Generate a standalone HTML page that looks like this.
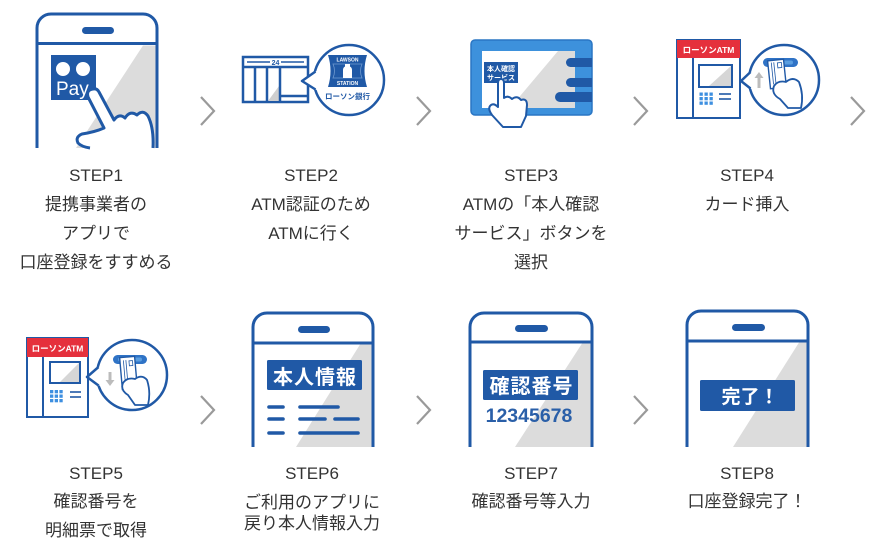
<!DOCTYPE html>
<html><head><meta charset="utf-8">
<style>
html,body{margin:0;padding:0;background:#fff;}
svg{display:block;}
text{font-family:"Liberation Sans","Noto Sans CJK JP",sans-serif;}
.t{font-size:17px;fill:#333;text-anchor:middle;}
.w{fill:#fff;font-weight:bold;text-anchor:middle;}
</style></head><body>
<svg width="880" height="544" viewBox="0 0 880 544" xmlns="http://www.w3.org/2000/svg">
<!-- ========== STEP1 ========== -->
<polygon points="143,45.5 155.5,45.5 155.5,148 76,148" fill="#dcdcdc"/>
<path d="M37,148 V28 A14 14 0 0 1 51,14 H143 A14 14 0 0 1 157,28 V148" fill="none" stroke="#2059a6" stroke-width="3"/>
<line x1="37" y1="43.5" x2="157" y2="43.5" stroke="#2059a6" stroke-width="3"/>
<rect x="82" y="27" width="32" height="7" rx="3.5" fill="#2059a6"/>
<rect x="51" y="55" width="45" height="45" fill="#2059a6"/>
<circle cx="63" cy="69" r="7" fill="#fff"/>
<circle cx="83" cy="69" r="7" fill="#fff"/>
<text x="56" y="95" font-size="19" fill="#fff">Pay</text>
<path d="M90,148 Q82,147 78,143 Q75,137 82,134 Q95,132 104,128 L88,97 Q86,90 93,89 Q97,88 99,92 L114,120 Q119,113 125,118 Q130,110 137,115 Q143,109 148,116 Q154,128 153,148" fill="#fff" stroke="#2059a6" stroke-width="3" stroke-linejoin="round"/>

<!-- ========== STEP2 ========== -->
<rect x="243" y="57" width="65" height="45" fill="#fff" stroke="#2059a6" stroke-width="2.5"/>
<polygon points="279,86 279,101 268,101" fill="#cfcfcf"/>
<g stroke="#2059a6" stroke-width="2.5" fill="none">
<line x1="243" y1="67" x2="308" y2="67"/>
<line x1="255" y1="67" x2="255" y2="102"/>
<line x1="267" y1="67" x2="267" y2="102"/>
<line x1="280" y1="67" x2="280" y2="102"/>
<line x1="280" y1="96" x2="308" y2="96"/>
<line x1="247" y1="62" x2="304" y2="62" stroke-width="1.5"/>
</g>
<rect x="270" y="58.5" width="11" height="7" fill="#fff"/>
<text x="275.5" y="65" font-size="7" font-weight="bold" fill="#2059a6" text-anchor="middle">24</text>
<circle cx="349" cy="80" r="35" fill="#fff" stroke="#2059a6" stroke-width="2.5"/>
<polygon points="316.5,71 302,81 316.5,90" fill="#fff"/>
<polyline points="315.5,71.5 302,81 315.5,89.5" fill="none" stroke="#2059a6" stroke-width="2.5" stroke-linejoin="round"/>
<path d="M328,55 H367 Q362,71 367,87 H328 Q333,71 328,55 Z" fill="#2059a6"/>
<path d="M333,64 H362 Q359,71 362,78 H333 Q336,71 333,64 Z" fill="none" stroke="#6f9ad0" stroke-width="0.8"/>
<text x="347.5" y="61.5" font-size="5" font-weight="bold" fill="#fff" text-anchor="middle">LAWSON</text>
<text x="347.5" y="85" font-size="5" font-weight="bold" fill="#fff" text-anchor="middle">STATION</text>
<path d="M343,78 V70 Q343,67.5 345,66.5 V64 H350 V66.5 Q352,67.5 352,70 V78 Z" fill="#fff"/>
<text x="347.5" y="99" font-size="7.5" font-weight="bold" fill="#2059a6" text-anchor="middle">ローソン銀行</text>

<!-- ========== STEP3 ========== -->
<rect x="471" y="40" width="121" height="75" rx="4" fill="#3d91dc" stroke="#2a76c4" stroke-width="1.5"/>
<rect x="482" y="51" width="93" height="57" fill="#fff"/>
<polygon points="558,51 575,51 575,108 510,108" fill="#dcdcdc"/>
<path d="M570.5,58 H592 V67 H570.5 A4.5 4.5 0 0 1 570.5,58 Z" fill="#2059a6"/>
<path d="M570.5,78 H592 V87 H570.5 A4.5 4.5 0 0 1 570.5,78 Z" fill="#2059a6"/>
<path d="M560,92 H592 V102 H560 A5 5 0 0 1 560,92 Z" fill="#2059a6"/>
<rect x="484" y="62" width="34" height="21" fill="#2059a6"/>
<text x="501" y="71" font-size="7" class="w">本人確認</text>
<text x="501" y="80" font-size="7" class="w">サービス</text>
<path d="M498,107 V83 Q498,79 501,79 Q504,79 504,83 V98 Q508,95 512,99 Q517,95 521,100 Q527,98 527,105 L526,116 L521,127 L503,127 L492,115 Q487,108 491,105 Q494,103 498,107 Z" fill="#fff" stroke="#2059a6" stroke-width="2" stroke-linejoin="round"/>

<!-- ========== STEP4 ========== -->
<rect x="677" y="40" width="63" height="78" fill="#fff" stroke="#2059a6" stroke-width="2"/>
<rect x="677" y="40" width="63" height="18" fill="#e5303c"/>
<text x="708.5" y="53" font-size="8.5" class="w">ローソンATM</text>
<line x1="693" y1="58" x2="693" y2="118" stroke="#2059a6" stroke-width="2"/>
<rect x="699" y="65" width="33" height="22" fill="#fff" stroke="#2059a6" stroke-width="2"/>
<polygon points="731,66 731,86 709,86" fill="#d6d6d6"/>
<g fill="#3d8fe0">
<rect x="699.5" y="92.5" width="3.3" height="3.3"/><rect x="704.5" y="92.5" width="3.3" height="3.3"/><rect x="709.5" y="92.5" width="3.3" height="3.3"/>
<rect x="699.5" y="97" width="3.3" height="3.3"/><rect x="704.5" y="97" width="3.3" height="3.3"/><rect x="709.5" y="97" width="3.3" height="3.3"/>
<rect x="699.5" y="101.5" width="3.3" height="3.3"/><rect x="704.5" y="101.5" width="3.3" height="3.3"/><rect x="709.5" y="101.5" width="3.3" height="3.3"/>
</g>
<line x1="719" y1="94" x2="731" y2="94" stroke="#2059a6" stroke-width="1.6"/>
<line x1="719" y1="99" x2="731" y2="99" stroke="#2059a6" stroke-width="1.6"/>
<circle cx="784" cy="80" r="35" fill="#fff" stroke="#2059a6" stroke-width="2.5"/>
<polygon points="751.5,71.5 741,81 751.5,89" fill="#fff"/>
<polyline points="750.5,72 741,81 750.5,88.5" fill="none" stroke="#2059a6" stroke-width="2.5" stroke-linejoin="round"/>
<rect x="763" y="58" width="35" height="9" rx="4.5" fill="#2f73c6"/>
<rect x="768" y="60.5" width="25" height="4" rx="2" fill="#5a9ee0"/>
<g transform="rotate(-6 777 74)">
<rect x="769" y="60" width="16" height="28" fill="#fff" stroke="#2059a6" stroke-width="1.4"/>
<line x1="772.5" y1="62" x2="772.5" y2="84" stroke="#2059a6" stroke-width="0.8"/>
<line x1="775" y1="62" x2="775" y2="84" stroke="#2059a6" stroke-width="0.8"/>
<rect x="778.5" y="63" width="4" height="5" fill="none" stroke="#2059a6" stroke-width="0.8"/>
</g>
<path d="M774,86 Q778,80 786,82 Q793,76 799,82 Q804,95 801,108 L788,108 L780,99 Q771,94 774,86 Z" fill="#fff" stroke="#2059a6" stroke-width="1.8" stroke-linejoin="round"/>
<line x1="759" y1="77" x2="759" y2="88" stroke="#bcbcbc" stroke-width="3"/>
<polygon points="754.5,78 763.5,78 759,72" fill="#bcbcbc"/>

<!-- ========== STEP5 ========== -->
<rect x="27" y="338" width="61" height="79" fill="#fff" stroke="#2059a6" stroke-width="2"/>
<rect x="27" y="338" width="61" height="19" fill="#e5303c"/>
<text x="57.5" y="351.5" font-size="8.5" class="w">ローソンATM</text>
<line x1="43" y1="357" x2="43" y2="417" stroke="#2059a6" stroke-width="2"/>
<rect x="50" y="362" width="30" height="21" fill="#fff" stroke="#2059a6" stroke-width="2"/>
<polygon points="79,363 79,382 60,382" fill="#d6d6d6"/>
<g fill="#3d8fe0">
<rect x="50" y="390" width="3.3" height="3.3"/><rect x="54.7" y="390" width="3.3" height="3.3"/><rect x="59.4" y="390" width="3.3" height="3.3"/>
<rect x="50" y="394.5" width="3.3" height="3.3"/><rect x="54.7" y="394.5" width="3.3" height="3.3"/><rect x="59.4" y="394.5" width="3.3" height="3.3"/>
<rect x="50" y="399" width="3.3" height="3.3"/><rect x="54.7" y="399" width="3.3" height="3.3"/><rect x="59.4" y="399" width="3.3" height="3.3"/>
</g>
<line x1="70" y1="392" x2="81" y2="392" stroke="#2059a6" stroke-width="1.6"/>
<line x1="70" y1="397" x2="81" y2="397" stroke="#2059a6" stroke-width="1.6"/>
<circle cx="132" cy="375" r="35" fill="#fff" stroke="#2059a6" stroke-width="2.5"/>
<polygon points="99.5,366.5 87,377 99.5,386" fill="#fff"/>
<polyline points="98.5,367 87,377 98.5,385.5" fill="none" stroke="#2059a6" stroke-width="2.5" stroke-linejoin="round"/>
<rect x="113" y="355" width="34" height="9" rx="4.5" fill="#2f73c6"/>
<rect x="118" y="357.5" width="24" height="4" rx="2" fill="#5a9ee0"/>
<g transform="rotate(-5 128 373)">
<rect x="121" y="357" width="15" height="32" fill="#fff" stroke="#2059a6" stroke-width="1.4"/>
<line x1="124.5" y1="360" x2="124.5" y2="384" stroke="#2059a6" stroke-width="0.8"/>
<line x1="127" y1="360" x2="127" y2="384" stroke="#2059a6" stroke-width="0.8"/>
<rect x="130" y="361" width="3.5" height="5" fill="none" stroke="#2059a6" stroke-width="0.8"/>
</g>
<path d="M123,383 Q127,377 135,379 Q142,374 147,380 Q151,392 148,405 L135,405 L128,395 Q120,390 123,383 Z" fill="#fff" stroke="#2059a6" stroke-width="1.8" stroke-linejoin="round"/>
<line x1="110" y1="372" x2="110" y2="381" stroke="#bcbcbc" stroke-width="3"/>
<polygon points="105.5,380 114.5,380 110,386" fill="#bcbcbc"/>

<!-- ========== STEP6 ========== -->
<polygon points="360,344.5 371.5,344.5 371.5,447 296,447" fill="#dcdcdc"/>
<path d="M253,447 V327 A14 14 0 0 1 267,313 H359 A14 14 0 0 1 373,327 V447" fill="none" stroke="#2059a6" stroke-width="3"/>
<line x1="253" y1="343" x2="373" y2="343" stroke="#2059a6" stroke-width="3"/>
<rect x="298" y="326" width="32" height="7" rx="3.5" fill="#2059a6"/>
<rect x="267" y="360" width="95" height="30" rx="1.5" fill="#2059a6"/>
<text x="315" y="384" font-size="20" letter-spacing="1" class="w">本人情報</text>
<g stroke="#2059a6" stroke-width="3.6" stroke-linecap="round">
<line x1="269" y1="407" x2="283" y2="407"/><line x1="300" y1="407" x2="338" y2="407"/>
<line x1="269" y1="419" x2="283" y2="419"/><line x1="300" y1="419" x2="325" y2="419"/><line x1="335" y1="419" x2="358" y2="419"/>
<line x1="269" y1="433" x2="283" y2="433"/><line x1="300" y1="433" x2="358" y2="433"/>
</g>

<!-- ========== STEP7 ========== -->
<polygon points="582,343.5 590.5,343.5 590.5,447 515,447" fill="#dcdcdc"/>
<path d="M470,447 V327 A14 14 0 0 1 484,313 H578 A14 14 0 0 1 592,327 V447" fill="none" stroke="#2059a6" stroke-width="3"/>
<line x1="470" y1="342" x2="592" y2="342" stroke="#2059a6" stroke-width="3"/>
<rect x="515" y="325" width="33" height="7" rx="3.5" fill="#2059a6"/>
<rect x="483" y="370" width="95" height="30" rx="1.5" fill="#2059a6"/>
<text x="531.5" y="393" font-size="20" letter-spacing="1" class="w">確認番号</text>
<text x="529" y="422" font-size="19.5" font-weight="bold" fill="#2a5fa8" text-anchor="middle">12345678</text>

<!-- ========== STEP8 ========== -->
<polygon points="799,342.5 806.5,342.5 806.5,447 733,447" fill="#dcdcdc"/>
<path d="M687,447 V325 A14 14 0 0 1 701,311 H794 A14 14 0 0 1 808,325 V447" fill="none" stroke="#2059a6" stroke-width="3"/>
<line x1="687" y1="341" x2="808" y2="341" stroke="#2059a6" stroke-width="3"/>
<rect x="732" y="324" width="33" height="7" rx="3.5" fill="#2059a6"/>
<rect x="700" y="380" width="95" height="31" rx="1.5" fill="#2059a6"/>
<text x="750" y="403" font-size="19" class="w">完了！</text>

<!-- ========== CHEVRONS ========== -->
<g fill="none" stroke="#9a9a9a" stroke-width="2.2">
<polyline points="201,97 214,111 201,125"/>
<polyline points="417,97 430,111 417,125"/>
<polyline points="634,97 647,111 634,125"/>
<polyline points="851,97 864,111 851,125"/>
<polyline points="201,396 214,410 201,424"/>
<polyline points="417,396 430,410 417,424"/>
<polyline points="634,396 647,410 634,424"/>
</g>

<!-- ========== TEXT ========== -->
<text class="t" x="96" y="181">STEP1</text>
<text class="t" x="96" y="210">提携事業者の</text>
<text class="t" x="96" y="239">アプリで</text>
<text class="t" x="96" y="268">口座登録をすすめる</text>

<text class="t" x="311" y="181">STEP2</text>
<text class="t" x="311" y="210">ATM認証のため</text>
<text class="t" x="311" y="239">ATMに行く</text>

<text class="t" x="531" y="181">STEP3</text>
<text class="t" x="531" y="210">ATMの「本人確認</text>
<text class="t" x="531" y="239">サービス」ボタンを</text>
<text class="t" x="531" y="268">選択</text>

<text class="t" x="747" y="181">STEP4</text>
<text class="t" x="747" y="210">カード挿入</text>

<text class="t" x="96" y="479">STEP5</text>
<text class="t" x="96" y="507">確認番号を</text>
<text class="t" x="96" y="536">明細票で取得</text>

<text class="t" x="312" y="479">STEP6</text>
<text class="t" x="312" y="508">ご利用のアプリに</text>
<text class="t" x="312" y="529">戻り本人情報入力</text>

<text class="t" x="531" y="479">STEP7</text>
<text class="t" x="531" y="507">確認番号等入力</text>

<text class="t" x="747" y="479">STEP8</text>
<text class="t" x="747" y="507">口座登録完了！</text>
</svg>
</body></html>
